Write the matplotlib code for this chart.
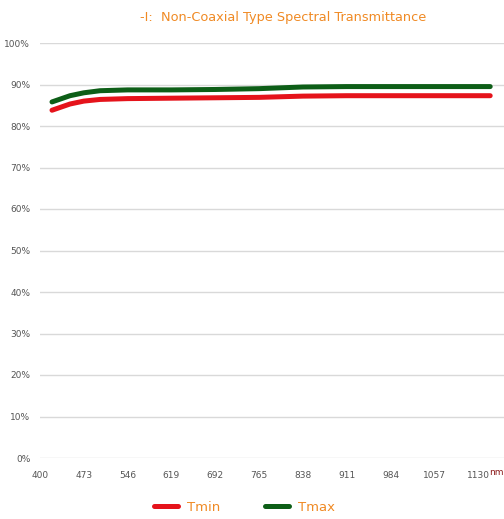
import matplotlib.pyplot as plt
from matplotlib.lines import Line2D

wavelength = [420, 450, 473, 500, 546, 619, 692, 765, 838, 911, 984, 1057, 1150]
t_min = [83.8, 85.3, 86.0, 86.4, 86.6, 86.7, 86.8, 86.9, 87.2, 87.3, 87.3, 87.3, 87.3]
t_max = [85.8, 87.3, 88.0, 88.5, 88.7, 88.7, 88.8, 89.0, 89.4, 89.5, 89.5, 89.5, 89.5]
x_ticks = [400, 473, 546, 619, 692, 765, 838, 911, 984, 1057, 1130]
y_ticks = list(range(0, 101, 10))

orange = '#F08A24'
red = '#E5131B'
green = '#0D5E17'

fig = plt.figure(figsize=(5.04, 5.19), dpi=100)
ax = fig.add_axes([40 / 504, 61 / 519, 464 / 504, 415 / 519])

ax.plot(wavelength, t_min, color=red, lw=3.6, solid_capstyle='round')
ax.plot(wavelength, t_max, color=green, lw=3.6, solid_capstyle='round')

ax.set_xlim(400, 1173)
ax.set_ylim(0, 100)
ax.set_xticks(x_ticks)
ax.set_yticks(y_ticks)
ax.set_yticklabels([f'{v}%' for v in y_ticks])
ax.tick_params(length=0, labelsize=6.5, labelcolor='#555555')
ax.tick_params(axis='x', pad=9)
ax.tick_params(axis='y', pad=7)
ax.grid(axis='y', color='#D9D9D9', lw=1)
ax.set_axisbelow(True)
for s in ax.spines.values():
    s.set_visible(False)

ax.text(1.0, -0.036, 'nm', transform=ax.transAxes, ha='right', va='center',
        fontsize=6.5, color='#8B1A1A')

fig.text(0.561, 0.967, '-I:  Non-Coaxial Type Spectral Transmittance',
         ha='center', va='center', fontsize=9.3, color=orange)

handles = [Line2D([], [], color=red, lw=3.6, solid_capstyle='round'),
           Line2D([], [], color=green, lw=3.6, solid_capstyle='round')]
leg = fig.legend(handles, ['Tmin', 'Tmax'], loc='center', bbox_to_anchor=(0.485, 0.023),
                 ncol=2, frameon=False, fontsize=9.5, handlelength=1.8,
                 handletextpad=0.7, columnspacing=3.4)
for t in leg.get_texts():
    t.set_color(orange)

fig.savefig('out.png', dpi=100)
